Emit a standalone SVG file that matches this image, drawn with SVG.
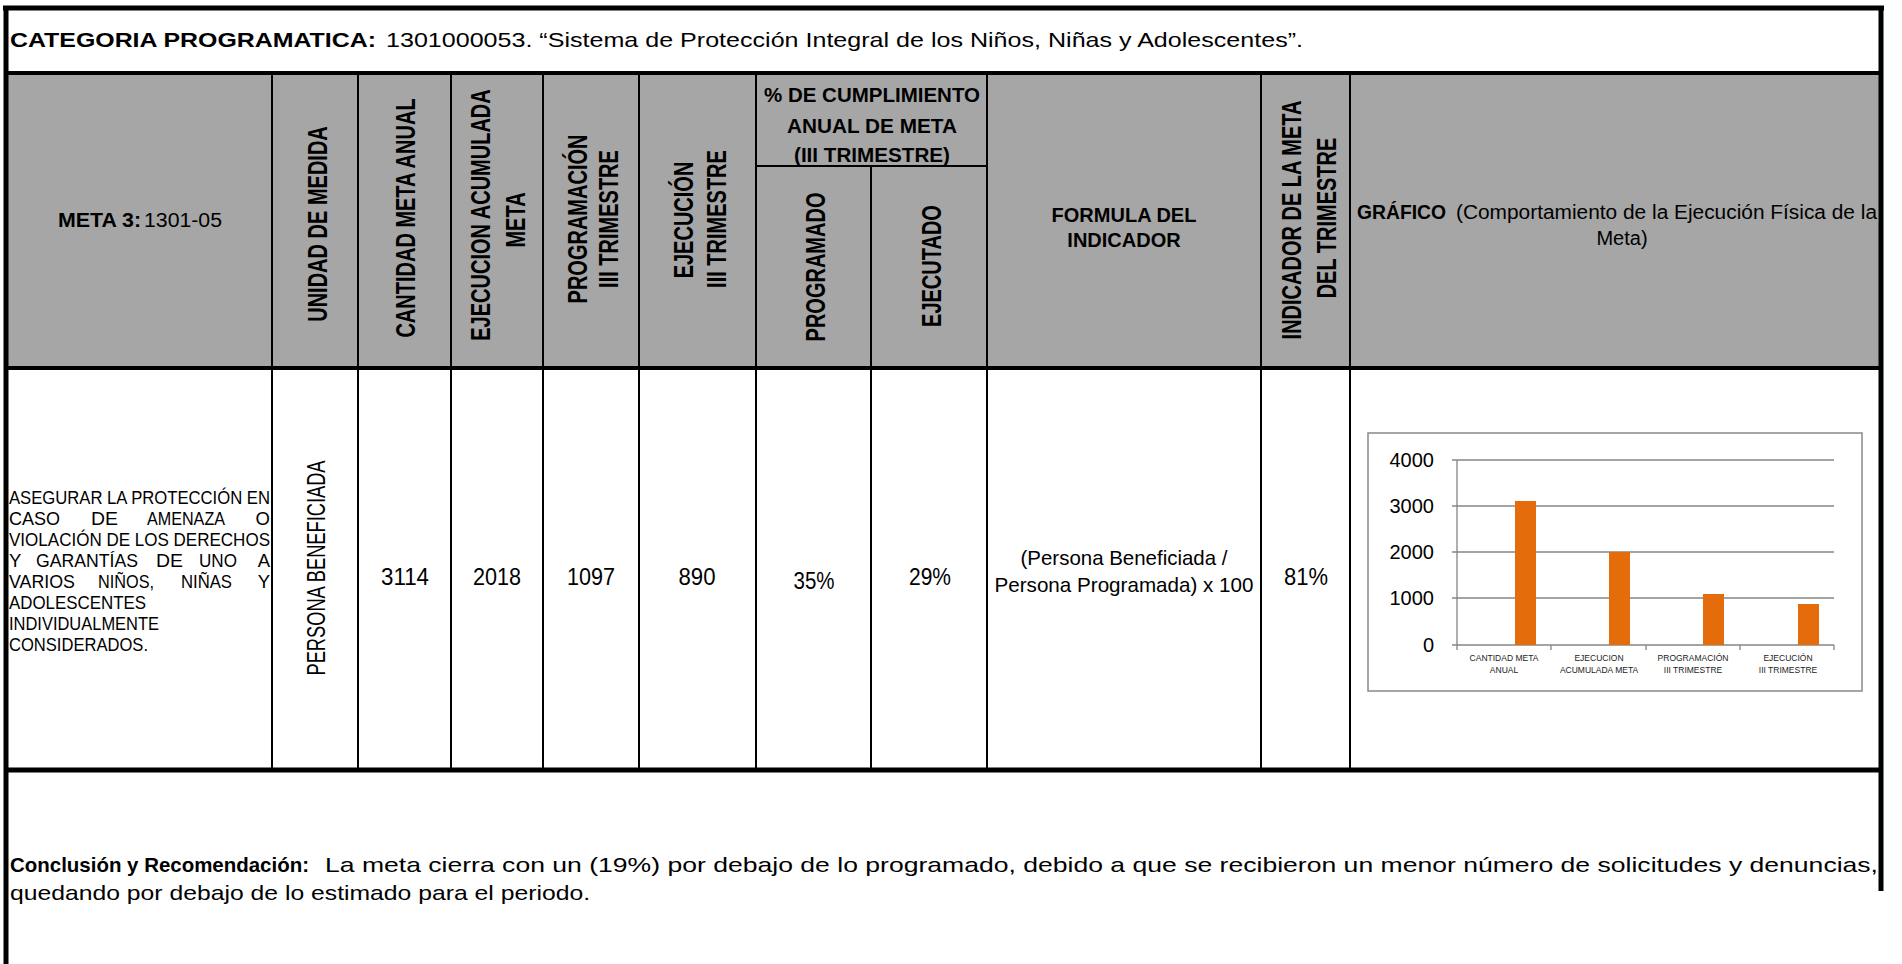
<svg xmlns="http://www.w3.org/2000/svg" width="1902" height="964" viewBox="0 0 1902 964">
<defs>
<style>
.b{font-family:"Liberation Sans",Arial,sans-serif;font-weight:bold;fill:#000}
.r{font-family:"Liberation Sans",Arial,sans-serif;font-weight:normal;fill:#000}
.h{font-size:20px}
.c{text-anchor:middle}
.e{text-anchor:end}
.thick{stroke:#000;stroke-width:5;fill:none}
.med{stroke:#000;stroke-width:4;fill:none}
.thin{stroke:#000;stroke-width:2;fill:none}
.grid{stroke:#868686;stroke-width:1.3;fill:none}
.bar{fill:#E46C0A}
.ax{font-family:"Liberation Sans",Arial,sans-serif;font-size:20px;fill:#000;text-anchor:end}
.cat{font-family:"Liberation Sans",Arial,sans-serif;font-size:8.5px;fill:#222;text-anchor:middle}
.n{font-size:23px}
</style>
</defs>
<rect width="1902" height="964" fill="#fff"/>
<rect id="header-band" x="6" y="75" width="1875" height="293" fill="#A6A6A6"/>

<g id="grid-lines">
<path class="thick" d="M3 8H1884M6 6V964M1881 6V891"/>
<path class="med" d="M4 73H1883M4 368H1883"/>
<path class="thick" d="M4 770H1883"/>
<path class="thin" d="M272 73V770M358 73V770M451 73V770M543 73V770M639 73V770M756 73V770M987 73V770M1261 73V770M1350 73V770M871 166V770M756 166H987"/>
</g>

<g id="categoria">
<text class="b" x="10" y="47" font-size="21" textLength="366" lengthAdjust="spacingAndGlyphs">CATEGORIA PROGRAMATICA:</text>
<text class="r" x="386" y="47" font-size="21" textLength="917" lengthAdjust="spacingAndGlyphs">1301000053.  “Sistema de Protección Integral de los Niños, Niñas y Adolescentes”.</text>
</g>

<g id="h-meta">
<text class="b h" x="58" y="227" textLength="83" lengthAdjust="spacingAndGlyphs">META 3:</text>
<text class="r h" x="144" y="227" textLength="78" lengthAdjust="spacingAndGlyphs">1301-05</text>
</g>
<g id="h-unidad"><text class="b h c" transform="translate(317 224) rotate(-90) scale(1 1.4)" y="7">UNIDAD DE MEDIDA</text></g>
<g id="h-cantidad"><text class="b h c" transform="translate(405 218) rotate(-90) scale(1 1.4)" y="7">CANTIDAD META ANUAL</text></g>
<g id="h-ejec-acum">
<text class="b h c" transform="translate(480 215) rotate(-90) scale(1 1.4)" y="7">EJECUCION ACUMULADA</text>
<text class="b h c" transform="translate(515 220) rotate(-90) scale(1 1.4)" y="7">META</text>
</g>
<g id="h-programacion">
<text class="b h c" transform="translate(577 219) rotate(-90) scale(1 1.4)" y="7">PROGRAMACIÓN</text>
<text class="b h c" transform="translate(608 219) rotate(-90) scale(1 1.4)" y="7">III TRIMESTRE</text>
</g>
<g id="h-ejecucion">
<text class="b h c" transform="translate(683 220) rotate(-90) scale(1 1.4)" y="7">EJECUCIÓN</text>
<text class="b h c" transform="translate(716 219) rotate(-90) scale(1 1.4)" y="7">III TRIMESTRE</text>
</g>
<g id="h-cumplimiento">
<text class="b h c" x="872" y="102" textLength="216" lengthAdjust="spacingAndGlyphs">% DE CUMPLIMIENTO</text>
<text class="b h c" x="872" y="133" textLength="170" lengthAdjust="spacingAndGlyphs">ANUAL DE META</text>
<text class="b h c" x="872" y="162" textLength="156" lengthAdjust="spacingAndGlyphs">(III TRIMESTRE)</text>
</g>
<g id="h-programado"><text class="b h c" transform="translate(815 267) rotate(-90) scale(1 1.4)" y="7">PROGRAMADO</text></g>
<g id="h-ejecutado"><text class="b h c" transform="translate(931 266) rotate(-90) scale(1 1.4)" y="7">EJECUTADO</text></g>
<g id="h-formula">
<text class="b h c" x="1124" y="222">FORMULA DEL</text>
<text class="b h c" x="1124" y="247">INDICADOR</text>
</g>
<g id="h-indicador">
<text class="b h c" transform="translate(1291 220) rotate(-90) scale(1 1.4)" y="7">INDICADOR DE LA META</text>
<text class="b h c" transform="translate(1326 218) rotate(-90) scale(1 1.4)" y="7">DEL TRIMESTRE</text>
</g>
<g id="h-grafico">
<text class="b h" x="1357" y="219" textLength="89" lengthAdjust="spacingAndGlyphs">GRÁFICO</text>
<text class="r h" x="1456" y="219" textLength="421" lengthAdjust="spacingAndGlyphs">(Comportamiento de la Ejecución Física de la</text>
<text class="r h c" x="1622" y="245">Meta)</text>
</g>

<g id="d-meta" class="r" font-size="18.5">
<text x="9" y="504" textLength="261" lengthAdjust="spacingAndGlyphs">ASEGURAR LA PROTECCIÓN EN</text>
<text x="9" y="525" textLength="51" lengthAdjust="spacingAndGlyphs">CASO</text><text x="91" y="525" textLength="27" lengthAdjust="spacingAndGlyphs">DE</text><text x="147" y="525" textLength="78" lengthAdjust="spacingAndGlyphs">AMENAZA</text><text class="e" x="270" y="525">O</text>
<text x="9" y="546" textLength="261" lengthAdjust="spacingAndGlyphs">VIOLACIÓN DE LOS DERECHOS</text>
<text x="9" y="567">Y</text><text x="36" y="567" textLength="102" lengthAdjust="spacingAndGlyphs">GARANTÍAS</text><text x="156" y="567" textLength="27" lengthAdjust="spacingAndGlyphs">DE</text><text x="199" y="567" textLength="38" lengthAdjust="spacingAndGlyphs">UNO</text><text class="e" x="270" y="567">A</text>
<text x="9" y="588" textLength="66" lengthAdjust="spacingAndGlyphs">VARIOS</text><text x="98" y="588" textLength="56" lengthAdjust="spacingAndGlyphs">NIÑOS,</text><text x="181" y="588" textLength="51" lengthAdjust="spacingAndGlyphs">NIÑAS</text><text class="e" x="270" y="588">Y</text>
<text x="9" y="609" textLength="137" lengthAdjust="spacingAndGlyphs">ADOLESCENTES</text>
<text x="9" y="630" textLength="150" lengthAdjust="spacingAndGlyphs">INDIVIDUALMENTE</text>
<text x="9" y="651" textLength="139" lengthAdjust="spacingAndGlyphs">CONSIDERADOS.</text>
</g>
<g id="d-unidad"><text class="r c" font-size="18" transform="translate(316 568) rotate(-90) scale(1 1.4)" y="6.5" textLength="215" lengthAdjust="spacingAndGlyphs">PERSONA BENEFICIADA</text></g>
<g id="d-cantidad"><text class="r c n" x="405" y="585" textLength="48" lengthAdjust="spacingAndGlyphs">3114</text></g>
<g id="d-ejec-acum"><text class="r c n" x="497" y="585" textLength="48" lengthAdjust="spacingAndGlyphs">2018</text></g>
<g id="d-programacion"><text class="r c n" x="591" y="585" textLength="48" lengthAdjust="spacingAndGlyphs">1097</text></g>
<g id="d-ejecucion"><text class="r c n" x="697" y="585" textLength="37" lengthAdjust="spacingAndGlyphs">890</text></g>
<g id="d-programado"><text class="r c n" x="814" y="589" textLength="41" lengthAdjust="spacingAndGlyphs">35%</text></g>
<g id="d-ejecutado"><text class="r c n" x="930" y="585" textLength="42" lengthAdjust="spacingAndGlyphs">29%</text></g>
<g id="d-formula">
<text class="r c" font-size="21" x="1124" y="565" textLength="207" lengthAdjust="spacingAndGlyphs">(Persona Beneficiada /</text>
<text class="r c" font-size="21" x="1124" y="592" textLength="259" lengthAdjust="spacingAndGlyphs">Persona Programada) x 100</text>
</g>
<g id="d-indicador"><text class="r c n" x="1306" y="585" textLength="44" lengthAdjust="spacingAndGlyphs">81%</text></g>

<g id="chart">
<rect x="1368" y="433" width="494" height="258" fill="#fff" stroke="#898989" stroke-width="1.5"/>
<path class="grid" d="M1457 460H1834M1457 506H1834M1457 552H1834M1457 598H1834"/>
<path class="grid" d="M1452 460H1457M1452 506H1457M1452 552H1457M1452 598H1457M1452 645H1457M1457 460V645M1457 645H1834M1457 645V650M1551 645V650M1646 645V650M1740 645V650M1834 645V650"/>
<rect class="bar" x="1515" y="501" width="21" height="144"/>
<rect class="bar" x="1609" y="552" width="21" height="93"/>
<rect class="bar" x="1703" y="594" width="21" height="51"/>
<rect class="bar" x="1798" y="604" width="21" height="41"/>
<text class="ax" x="1434" y="467">4000</text>
<text class="ax" x="1434" y="513">3000</text>
<text class="ax" x="1434" y="559">2000</text>
<text class="ax" x="1434" y="605">1000</text>
<text class="ax" x="1434" y="652">0</text>
<text class="cat" x="1504" y="661">CANTIDAD META</text>
<text class="cat" x="1504" y="673">ANUAL</text>
<text class="cat" x="1599" y="661">EJECUCION</text>
<text class="cat" x="1599" y="673">ACUMULADA META</text>
<text class="cat" x="1693" y="661">PROGRAMACIÓN</text>
<text class="cat" x="1693" y="673">III TRIMESTRE</text>
<text class="cat" x="1788" y="661">EJECUCIÓN</text>
<text class="cat" x="1788" y="673">III TRIMESTRE</text>
</g>

<g id="conclusion">
<text class="b" x="10" y="872" font-size="21" textLength="299" lengthAdjust="spacingAndGlyphs">Conclusión y Recomendación:</text>
<text class="r" x="325" y="872" font-size="21" textLength="1553" lengthAdjust="spacingAndGlyphs">La meta cierra con un (19%) por debajo de lo programado, debido a que se recibieron un menor número de solicitudes y denuncias,</text>
<text class="r" x="10" y="900" font-size="21" textLength="580" lengthAdjust="spacingAndGlyphs">quedando por debajo de lo estimado para el periodo.</text>
</g>
</svg>
